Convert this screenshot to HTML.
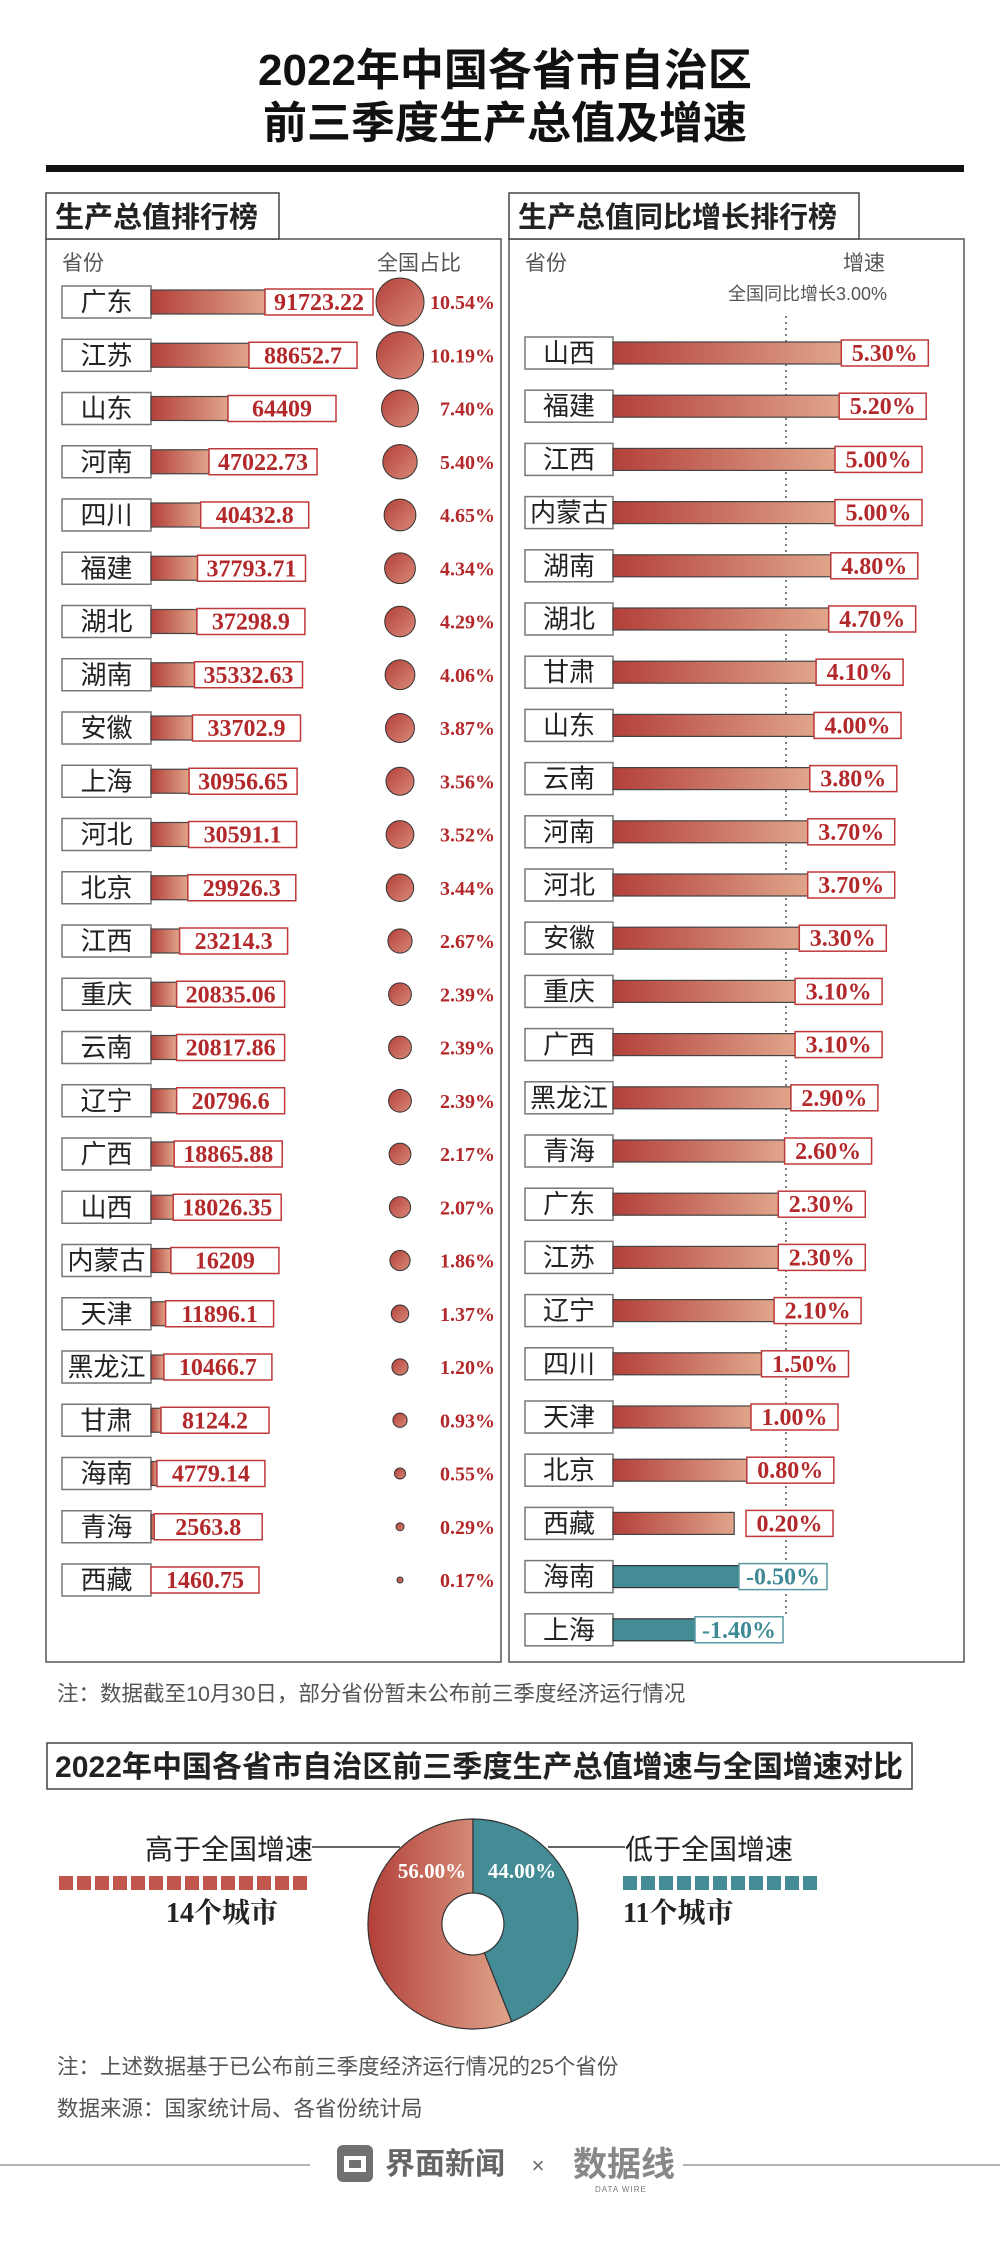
<!DOCTYPE html>
<html><head><meta charset="utf-8">
<style>
html,body{margin:0;padding:0;background:#fff;}
svg{display:block;}
.sans{font-family:"Liberation Sans","Noto Sans CJK SC",sans-serif;}
.lab{font-family:"Liberation Sans","Noto Sans CJK SC",sans-serif;font-size:26px;fill:#222;text-anchor:middle;}
.val{font-family:"Liberation Serif","Noto Serif CJK SC",serif;font-weight:bold;font-size:24px;fill:#b3292b;text-anchor:middle;}
.pct{font-family:"Liberation Serif","Noto Serif CJK SC",serif;font-weight:bold;font-size:20px;fill:#b3292b;text-anchor:end;}
.tv{font-family:"Liberation Serif","Noto Serif CJK SC",serif;font-weight:bold;font-size:24px;fill:#3e8a95;text-anchor:middle;}
.gray{font-family:"Liberation Sans","Noto Sans CJK SC",sans-serif;fill:#555;}
.lb{fill:#fff;stroke:#777;stroke-width:1.5;}
.bar{fill:url(#g);stroke:#444;stroke-width:1.2;}
.tbar{fill:#438c96;stroke:#333;stroke-width:1.2;}
.vb{fill:#fff;stroke:#c0393a;stroke-width:1.5;}
.tb{fill:#fff;stroke:#5a9aa4;stroke-width:1.5;}
.c{fill:url(#gc);stroke:#333;stroke-width:1;}
</style></head><body>
<svg width="1000" height="2265" viewBox="0 0 1000 2265" xmlns="http://www.w3.org/2000/svg">
<defs>
<linearGradient id="g" x1="0" y1="0" x2="1" y2="0"><stop offset="0" stop-color="#b3403a"/><stop offset="1" stop-color="#e0a58a"/></linearGradient>
<linearGradient id="gc" x1="0" y1="0" x2="1" y2="1"><stop offset="0" stop-color="#b3403a"/><stop offset="1" stop-color="#d98a78"/></linearGradient>
<linearGradient id="gd" x1="0" y1="0" x2="1" y2="0"><stop offset="0" stop-color="#b3403a"/><stop offset="1" stop-color="#e0a58a"/></linearGradient>
</defs>
<rect width="1000" height="2265" fill="#fff"/>
<!-- title -->
<text x="505" y="85" text-anchor="middle" font-size="44" font-weight="bold" fill="#111" class="sans">2022年中国各省市自治区</text>
<text x="505" y="138" text-anchor="middle" font-size="44" font-weight="bold" fill="#111" class="sans">前三季度生产总值及增速</text>
<rect x="46" y="165" width="918" height="7" fill="#111"/>

<!-- panels -->
<rect x="46" y="239" width="455" height="1423" fill="none" stroke="#555" stroke-width="1.5"/>
<rect x="509" y="239" width="455" height="1423" fill="none" stroke="#555" stroke-width="1.5"/>
<rect x="46" y="193" width="233" height="46" fill="#fff" stroke="#444" stroke-width="1.5"/>
<rect x="509" y="193" width="350" height="46" fill="#fff" stroke="#444" stroke-width="1.5"/>
<text x="55" y="227" font-size="29" font-weight="bold" fill="#222" class="sans">生产总值排行榜</text>
<text x="518" y="227" font-size="29" font-weight="bold" fill="#222" class="sans">生产总值同比增长排行榜</text>
<text x="62" y="270" font-size="21" class="gray">省份</text>
<text x="377" y="270" font-size="21" class="gray">全国占比</text>
<text x="525" y="270" font-size="21" class="gray">省份</text>
<text x="843" y="270" font-size="21" class="gray">增速</text>
<text x="728" y="300" font-size="18" class="gray">全国同比增长3.00%</text>
<line x1="786" y1="316" x2="786" y2="1616" stroke="#555" stroke-width="1.5" stroke-dasharray="2,4"/>

<!-- left rows -->
<g transform="translate(0,302)"><rect class="lb" x="62" y="-16" width="89" height="32"/><text class="lab" x="106.5" y="9">广东</text><rect class="bar" x="151" y="-12" width="114" height="24"/><rect class="vb" x="265" y="-13" width="108" height="26"/><text class="val" x="319" y="8">91723.22</text><circle class="c" cx="400" cy="0" r="24"/><text class="pct" x="495" y="7">10.54%</text></g>
<g transform="translate(0,355.25)"><rect class="lb" x="62" y="-16" width="89" height="32"/><text class="lab" x="106.5" y="9">江苏</text><rect class="bar" x="151" y="-12" width="98" height="24"/><rect class="vb" x="249" y="-13" width="108" height="26"/><text class="val" x="303" y="8">88652.7</text><circle class="c" cx="400" cy="0" r="23.6"/><text class="pct" x="495" y="7">10.19%</text></g>
<g transform="translate(0,408.5)"><rect class="lb" x="62" y="-16" width="89" height="32"/><text class="lab" x="106.5" y="9">山东</text><rect class="bar" x="151" y="-12" width="77" height="24"/><rect class="vb" x="228" y="-13" width="108" height="26"/><text class="val" x="282" y="8">64409</text><circle class="c" cx="400" cy="0" r="18.5"/><text class="pct" x="495" y="7">7.40%</text></g>
<g transform="translate(0,461.75)"><rect class="lb" x="62" y="-16" width="89" height="32"/><text class="lab" x="106.5" y="9">河南</text><rect class="bar" x="151" y="-12" width="58" height="24"/><rect class="vb" x="209" y="-13" width="108" height="26"/><text class="val" x="263" y="8">47022.73</text><circle class="c" cx="400" cy="0" r="17.2"/><text class="pct" x="495" y="7">5.40%</text></g>
<g transform="translate(0,515)"><rect class="lb" x="62" y="-16" width="89" height="32"/><text class="lab" x="106.5" y="9">四川</text><rect class="bar" x="151" y="-12" width="49.7" height="24"/><rect class="vb" x="200.7" y="-13" width="108" height="26"/><text class="val" x="254.7" y="8">40432.8</text><circle class="c" cx="400" cy="0" r="15.9"/><text class="pct" x="495" y="7">4.65%</text></g>
<g transform="translate(0,568.25)"><rect class="lb" x="62" y="-16" width="89" height="32"/><text class="lab" x="106.5" y="9">福建</text><rect class="bar" x="151" y="-12" width="46.5" height="24"/><rect class="vb" x="197.5" y="-13" width="108" height="26"/><text class="val" x="251.5" y="8">37793.71</text><circle class="c" cx="400" cy="0" r="15.4"/><text class="pct" x="495" y="7">4.34%</text></g>
<g transform="translate(0,621.5)"><rect class="lb" x="62" y="-16" width="89" height="32"/><text class="lab" x="106.5" y="9">湖北</text><rect class="bar" x="151" y="-12" width="45.9" height="24"/><rect class="vb" x="196.9" y="-13" width="108" height="26"/><text class="val" x="250.9" y="8">37298.9</text><circle class="c" cx="400" cy="0" r="15.3"/><text class="pct" x="495" y="7">4.29%</text></g>
<g transform="translate(0,674.75)"><rect class="lb" x="62" y="-16" width="89" height="32"/><text class="lab" x="106.5" y="9">湖南</text><rect class="bar" x="151" y="-12" width="43.5" height="24"/><rect class="vb" x="194.5" y="-13" width="108" height="26"/><text class="val" x="248.5" y="8">35332.63</text><circle class="c" cx="400" cy="0" r="14.9"/><text class="pct" x="495" y="7">4.06%</text></g>
<g transform="translate(0,728)"><rect class="lb" x="62" y="-16" width="89" height="32"/><text class="lab" x="106.5" y="9">安徽</text><rect class="bar" x="151" y="-12" width="41.5" height="24"/><rect class="vb" x="192.5" y="-13" width="108" height="26"/><text class="val" x="246.5" y="8">33702.9</text><circle class="c" cx="400" cy="0" r="14.5"/><text class="pct" x="495" y="7">3.87%</text></g>
<g transform="translate(0,781.25)"><rect class="lb" x="62" y="-16" width="89" height="32"/><text class="lab" x="106.5" y="9">上海</text><rect class="bar" x="151" y="-12" width="38.1" height="24"/><rect class="vb" x="189.1" y="-13" width="108" height="26"/><text class="val" x="243.1" y="8">30956.65</text><circle class="c" cx="400" cy="0" r="14"/><text class="pct" x="495" y="7">3.56%</text></g>
<g transform="translate(0,834.5)"><rect class="lb" x="62" y="-16" width="89" height="32"/><text class="lab" x="106.5" y="9">河北</text><rect class="bar" x="151" y="-12" width="37.6" height="24"/><rect class="vb" x="188.6" y="-13" width="108" height="26"/><text class="val" x="242.6" y="8">30591.1</text><circle class="c" cx="400" cy="0" r="13.9"/><text class="pct" x="495" y="7">3.52%</text></g>
<g transform="translate(0,887.75)"><rect class="lb" x="62" y="-16" width="89" height="32"/><text class="lab" x="106.5" y="9">北京</text><rect class="bar" x="151" y="-12" width="36.8" height="24"/><rect class="vb" x="187.8" y="-13" width="108" height="26"/><text class="val" x="241.8" y="8">29926.3</text><circle class="c" cx="400" cy="0" r="13.7"/><text class="pct" x="495" y="7">3.44%</text></g>
<g transform="translate(0,941)"><rect class="lb" x="62" y="-16" width="89" height="32"/><text class="lab" x="106.5" y="9">江西</text><rect class="bar" x="151" y="-12" width="28.6" height="24"/><rect class="vb" x="179.6" y="-13" width="108" height="26"/><text class="val" x="233.6" y="8">23214.3</text><circle class="c" cx="400" cy="0" r="12.1"/><text class="pct" x="495" y="7">2.67%</text></g>
<g transform="translate(0,994.25)"><rect class="lb" x="62" y="-16" width="89" height="32"/><text class="lab" x="106.5" y="9">重庆</text><rect class="bar" x="151" y="-12" width="25.6" height="24"/><rect class="vb" x="176.6" y="-13" width="108" height="26"/><text class="val" x="230.6" y="8">20835.06</text><circle class="c" cx="400" cy="0" r="11.4"/><text class="pct" x="495" y="7">2.39%</text></g>
<g transform="translate(0,1047.5)"><rect class="lb" x="62" y="-16" width="89" height="32"/><text class="lab" x="106.5" y="9">云南</text><rect class="bar" x="151" y="-12" width="25.6" height="24"/><rect class="vb" x="176.6" y="-13" width="108" height="26"/><text class="val" x="230.6" y="8">20817.86</text><circle class="c" cx="400" cy="0" r="11.4"/><text class="pct" x="495" y="7">2.39%</text></g>
<g transform="translate(0,1100.75)"><rect class="lb" x="62" y="-16" width="89" height="32"/><text class="lab" x="106.5" y="9">辽宁</text><rect class="bar" x="151" y="-12" width="25.6" height="24"/><rect class="vb" x="176.6" y="-13" width="108" height="26"/><text class="val" x="230.6" y="8">20796.6</text><circle class="c" cx="400" cy="0" r="11.4"/><text class="pct" x="495" y="7">2.39%</text></g>
<g transform="translate(0,1154)"><rect class="lb" x="62" y="-16" width="89" height="32"/><text class="lab" x="106.5" y="9">广西</text><rect class="bar" x="151" y="-12" width="23.2" height="24"/><rect class="vb" x="174.2" y="-13" width="108" height="26"/><text class="val" x="228.2" y="8">18865.88</text><circle class="c" cx="400" cy="0" r="10.9"/><text class="pct" x="495" y="7">2.17%</text></g>
<g transform="translate(0,1207.25)"><rect class="lb" x="62" y="-16" width="89" height="32"/><text class="lab" x="106.5" y="9">山西</text><rect class="bar" x="151" y="-12" width="22.2" height="24"/><rect class="vb" x="173.2" y="-13" width="108" height="26"/><text class="val" x="227.2" y="8">18026.35</text><circle class="c" cx="400" cy="0" r="10.6"/><text class="pct" x="495" y="7">2.07%</text></g>
<g transform="translate(0,1260.5)"><rect class="lb" x="62" y="-16" width="89" height="32"/><text class="lab" x="106.5" y="9">内蒙古</text><rect class="bar" x="151" y="-12" width="19.9" height="24"/><rect class="vb" x="170.9" y="-13" width="108" height="26"/><text class="val" x="224.9" y="8">16209</text><circle class="c" cx="400" cy="0" r="10.1"/><text class="pct" x="495" y="7">1.86%</text></g>
<g transform="translate(0,1313.75)"><rect class="lb" x="62" y="-16" width="89" height="32"/><text class="lab" x="106.5" y="9">天津</text><rect class="bar" x="151" y="-12" width="14.6" height="24"/><rect class="vb" x="165.6" y="-13" width="108" height="26"/><text class="val" x="219.6" y="8">11896.1</text><circle class="c" cx="400" cy="0" r="8.7"/><text class="pct" x="495" y="7">1.37%</text></g>
<g transform="translate(0,1367)"><rect class="lb" x="62" y="-16" width="89" height="32"/><text class="lab" x="106.5" y="9">黑龙江</text><rect class="bar" x="151" y="-12" width="12.9" height="24"/><rect class="vb" x="163.9" y="-13" width="108" height="26"/><text class="val" x="217.9" y="8">10466.7</text><circle class="c" cx="400" cy="0" r="8.1"/><text class="pct" x="495" y="7">1.20%</text></g>
<g transform="translate(0,1420.25)"><rect class="lb" x="62" y="-16" width="89" height="32"/><text class="lab" x="106.5" y="9">甘肃</text><rect class="bar" x="151" y="-12" width="10" height="24"/><rect class="vb" x="161" y="-13" width="108" height="26"/><text class="val" x="215" y="8">8124.2</text><circle class="c" cx="400" cy="0" r="7.1"/><text class="pct" x="495" y="7">0.93%</text></g>
<g transform="translate(0,1473.5)"><rect class="lb" x="62" y="-16" width="89" height="32"/><text class="lab" x="106.5" y="9">海南</text><rect class="bar" x="151" y="-12" width="5.9" height="24"/><rect class="vb" x="156.9" y="-13" width="108" height="26"/><text class="val" x="210.9" y="8">4779.14</text><circle class="c" cx="400" cy="0" r="5.5"/><text class="pct" x="495" y="7">0.55%</text></g>
<g transform="translate(0,1526.75)"><rect class="lb" x="62" y="-16" width="89" height="32"/><text class="lab" x="106.5" y="9">青海</text><rect class="bar" x="151" y="-12" width="3.2" height="24"/><rect class="vb" x="154.2" y="-13" width="108" height="26"/><text class="val" x="208.2" y="8">2563.8</text><circle class="c" cx="400" cy="0" r="4"/><text class="pct" x="495" y="7">0.29%</text></g>
<g transform="translate(0,1580)"><rect class="lb" x="62" y="-16" width="89" height="32"/><text class="lab" x="106.5" y="9">西藏</text><rect class="vb" x="151" y="-13" width="108" height="26"/><text class="val" x="205" y="8">1460.75</text><circle class="c" cx="400" cy="0" r="3"/><text class="pct" x="495" y="7">0.17%</text></g>

<!-- right rows -->
<g transform="translate(0,353)"><rect class="lb" x="525" y="-16" width="88" height="32"/><text class="lab" x="569" y="9">山西</text><rect class="bar" x="613" y="-11" width="228.3" height="22"/><rect class="vb" x="841.3" y="-13" width="87" height="26"/><text class="val" x="884.8" y="8">5.30%</text></g>
<g transform="translate(0,406.2)"><rect class="lb" x="525" y="-16" width="88" height="32"/><text class="lab" x="569" y="9">福建</text><rect class="bar" x="613" y="-11" width="226.2" height="22"/><rect class="vb" x="839.2" y="-13" width="87" height="26"/><text class="val" x="882.7" y="8">5.20%</text></g>
<g transform="translate(0,459.4)"><rect class="lb" x="525" y="-16" width="88" height="32"/><text class="lab" x="569" y="9">江西</text><rect class="bar" x="613" y="-11" width="222" height="22"/><rect class="vb" x="835" y="-13" width="87" height="26"/><text class="val" x="878.5" y="8">5.00%</text></g>
<g transform="translate(0,512.6)"><rect class="lb" x="525" y="-16" width="88" height="32"/><text class="lab" x="569" y="9">内蒙古</text><rect class="bar" x="613" y="-11" width="222" height="22"/><rect class="vb" x="835" y="-13" width="87" height="26"/><text class="val" x="878.5" y="8">5.00%</text></g>
<g transform="translate(0,565.8)"><rect class="lb" x="525" y="-16" width="88" height="32"/><text class="lab" x="569" y="9">湖南</text><rect class="bar" x="613" y="-11" width="217.8" height="22"/><rect class="vb" x="830.8" y="-13" width="87" height="26"/><text class="val" x="874.3" y="8">4.80%</text></g>
<g transform="translate(0,619)"><rect class="lb" x="525" y="-16" width="88" height="32"/><text class="lab" x="569" y="9">湖北</text><rect class="bar" x="613" y="-11" width="215.7" height="22"/><rect class="vb" x="828.7" y="-13" width="87" height="26"/><text class="val" x="872.2" y="8">4.70%</text></g>
<g transform="translate(0,672.2)"><rect class="lb" x="525" y="-16" width="88" height="32"/><text class="lab" x="569" y="9">甘肃</text><rect class="bar" x="613" y="-11" width="203.1" height="22"/><rect class="vb" x="816.1" y="-13" width="87" height="26"/><text class="val" x="859.6" y="8">4.10%</text></g>
<g transform="translate(0,725.4)"><rect class="lb" x="525" y="-16" width="88" height="32"/><text class="lab" x="569" y="9">山东</text><rect class="bar" x="613" y="-11" width="201" height="22"/><rect class="vb" x="814" y="-13" width="87" height="26"/><text class="val" x="857.5" y="8">4.00%</text></g>
<g transform="translate(0,778.6)"><rect class="lb" x="525" y="-16" width="88" height="32"/><text class="lab" x="569" y="9">云南</text><rect class="bar" x="613" y="-11" width="196.8" height="22"/><rect class="vb" x="809.8" y="-13" width="87" height="26"/><text class="val" x="853.3" y="8">3.80%</text></g>
<g transform="translate(0,831.8)"><rect class="lb" x="525" y="-16" width="88" height="32"/><text class="lab" x="569" y="9">河南</text><rect class="bar" x="613" y="-11" width="194.7" height="22"/><rect class="vb" x="807.7" y="-13" width="87" height="26"/><text class="val" x="851.2" y="8">3.70%</text></g>
<g transform="translate(0,885)"><rect class="lb" x="525" y="-16" width="88" height="32"/><text class="lab" x="569" y="9">河北</text><rect class="bar" x="613" y="-11" width="194.7" height="22"/><rect class="vb" x="807.7" y="-13" width="87" height="26"/><text class="val" x="851.2" y="8">3.70%</text></g>
<g transform="translate(0,938.2)"><rect class="lb" x="525" y="-16" width="88" height="32"/><text class="lab" x="569" y="9">安徽</text><rect class="bar" x="613" y="-11" width="186.3" height="22"/><rect class="vb" x="799.3" y="-13" width="87" height="26"/><text class="val" x="842.8" y="8">3.30%</text></g>
<g transform="translate(0,991.4)"><rect class="lb" x="525" y="-16" width="88" height="32"/><text class="lab" x="569" y="9">重庆</text><rect class="bar" x="613" y="-11" width="182.1" height="22"/><rect class="vb" x="795.1" y="-13" width="87" height="26"/><text class="val" x="838.6" y="8">3.10%</text></g>
<g transform="translate(0,1044.6)"><rect class="lb" x="525" y="-16" width="88" height="32"/><text class="lab" x="569" y="9">广西</text><rect class="bar" x="613" y="-11" width="182.1" height="22"/><rect class="vb" x="795.1" y="-13" width="87" height="26"/><text class="val" x="838.6" y="8">3.10%</text></g>
<g transform="translate(0,1097.8)"><rect class="lb" x="525" y="-16" width="88" height="32"/><text class="lab" x="569" y="9">黑龙江</text><rect class="bar" x="613" y="-11" width="177.9" height="22"/><rect class="vb" x="790.9" y="-13" width="87" height="26"/><text class="val" x="834.4" y="8">2.90%</text></g>
<g transform="translate(0,1151)"><rect class="lb" x="525" y="-16" width="88" height="32"/><text class="lab" x="569" y="9">青海</text><rect class="bar" x="613" y="-11" width="171.6" height="22"/><rect class="vb" x="784.6" y="-13" width="87" height="26"/><text class="val" x="828.1" y="8">2.60%</text></g>
<g transform="translate(0,1204.2)"><rect class="lb" x="525" y="-16" width="88" height="32"/><text class="lab" x="569" y="9">广东</text><rect class="bar" x="613" y="-11" width="165.3" height="22"/><rect class="vb" x="778.3" y="-13" width="87" height="26"/><text class="val" x="821.8" y="8">2.30%</text></g>
<g transform="translate(0,1257.4)"><rect class="lb" x="525" y="-16" width="88" height="32"/><text class="lab" x="569" y="9">江苏</text><rect class="bar" x="613" y="-11" width="165.3" height="22"/><rect class="vb" x="778.3" y="-13" width="87" height="26"/><text class="val" x="821.8" y="8">2.30%</text></g>
<g transform="translate(0,1310.6)"><rect class="lb" x="525" y="-16" width="88" height="32"/><text class="lab" x="569" y="9">辽宁</text><rect class="bar" x="613" y="-11" width="161.1" height="22"/><rect class="vb" x="774.1" y="-13" width="87" height="26"/><text class="val" x="817.6" y="8">2.10%</text></g>
<g transform="translate(0,1363.8)"><rect class="lb" x="525" y="-16" width="88" height="32"/><text class="lab" x="569" y="9">四川</text><rect class="bar" x="613" y="-11" width="148.5" height="22"/><rect class="vb" x="761.5" y="-13" width="87" height="26"/><text class="val" x="805" y="8">1.50%</text></g>
<g transform="translate(0,1417)"><rect class="lb" x="525" y="-16" width="88" height="32"/><text class="lab" x="569" y="9">天津</text><rect class="bar" x="613" y="-11" width="138" height="22"/><rect class="vb" x="751" y="-13" width="87" height="26"/><text class="val" x="794.5" y="8">1.00%</text></g>
<g transform="translate(0,1470.2)"><rect class="lb" x="525" y="-16" width="88" height="32"/><text class="lab" x="569" y="9">北京</text><rect class="bar" x="613" y="-11" width="133.8" height="22"/><rect class="vb" x="746.8" y="-13" width="87" height="26"/><text class="val" x="790.3" y="8">0.80%</text></g>
<g transform="translate(0,1523.4)"><rect class="lb" x="525" y="-16" width="88" height="32"/><text class="lab" x="569" y="9">西藏</text><rect class="bar" x="613" y="-11" width="121.2" height="22"/><rect class="vb" x="746" y="-13" width="87" height="26"/><text class="val" x="789.5" y="8">0.20%</text></g>
<g transform="translate(0,1576.6)"><rect class="lb" x="525" y="-16" width="88" height="32"/><text class="lab" x="569" y="9">海南</text><rect class="tbar" x="613" y="-11" width="126" height="22"/><rect class="tb" x="739" y="-13" width="88" height="26"/><text class="tv" x="783" y="8">-0.50%</text></g>
<g transform="translate(0,1629.8)"><rect class="lb" x="525" y="-16" width="88" height="32"/><text class="lab" x="569" y="9">上海</text><rect class="tbar" x="613" y="-11" width="82" height="22"/><rect class="tb" x="695" y="-13" width="88" height="26"/><text class="tv" x="739" y="8">-1.40%</text></g>

<!-- note -->
<text x="57" y="1701" font-size="21.5" class="gray" fill="#666">注：数据截至10月30日，部分省份暂未公布前三季度经济运行情况</text>

<!-- section 2 -->
<rect x="47" y="1743" width="865" height="46" fill="#fff" stroke="#444" stroke-width="1.5"/>
<text x="55" y="1777" font-size="30" font-weight="bold" fill="#222" class="sans" textLength="848">2022年中国各省市自治区前三季度生产总值增速与全国增速对比</text>

<path d="M473,1819 A105,105 0 1 0 511.7,2021.6 L484.4,1952.8 A31,31 0 1 1 473,1893 Z" fill="url(#gd)" stroke="#333" stroke-width="1.2"/>
<path d="M473,1819 A105,105 0 0 1 511.7,2021.6 L484.4,1952.8 A31,31 0 0 0 473,1893 Z" fill="#438c96" stroke="#333" stroke-width="1.2"/>
<text x="432" y="1878" text-anchor="middle" font-size="21" font-weight="bold" fill="#fff" font-family="Liberation Serif, serif">56.00%</text>
<text x="522" y="1878" text-anchor="middle" font-size="21" font-weight="bold" fill="#fff" font-family="Liberation Serif, serif">44.00%</text>

<text x="145" y="1859" font-size="28" fill="#222" class="sans">高于全国增速</text>
<line x1="312" y1="1847" x2="400" y2="1847" stroke="#333" stroke-width="1.5"/>
<text x="625" y="1859" font-size="28" fill="#222" class="sans">低于全国增速</text>
<line x1="548" y1="1847" x2="625" y2="1847" stroke="#333" stroke-width="1.5"/>
<g fill="#c0564c">
<rect x="59" y="1876" width="14" height="14"/><rect x="77" y="1876" width="14" height="14"/><rect x="95" y="1876" width="14" height="14"/><rect x="113" y="1876" width="14" height="14"/><rect x="131" y="1876" width="14" height="14"/><rect x="149" y="1876" width="14" height="14"/><rect x="167" y="1876" width="14" height="14"/><rect x="185" y="1876" width="14" height="14"/><rect x="203" y="1876" width="14" height="14"/><rect x="221" y="1876" width="14" height="14"/><rect x="239" y="1876" width="14" height="14"/><rect x="257" y="1876" width="14" height="14"/><rect x="275" y="1876" width="14" height="14"/><rect x="293" y="1876" width="14" height="14"/>
</g>
<g fill="#438c96">
<rect x="623" y="1876" width="14" height="14"/><rect x="641" y="1876" width="14" height="14"/><rect x="659" y="1876" width="14" height="14"/><rect x="677" y="1876" width="14" height="14"/><rect x="695" y="1876" width="14" height="14"/><rect x="713" y="1876" width="14" height="14"/><rect x="731" y="1876" width="14" height="14"/><rect x="749" y="1876" width="14" height="14"/><rect x="767" y="1876" width="14" height="14"/><rect x="785" y="1876" width="14" height="14"/><rect x="803" y="1876" width="14" height="14"/>
</g>
<text x="166" y="1922" font-size="28" font-weight="bold" fill="#222" font-family="Liberation Serif, 'Noto Serif CJK SC', serif">14个城市</text>
<text x="623" y="1922" font-size="28" font-weight="bold" fill="#222" font-family="Liberation Serif, 'Noto Serif CJK SC', serif">11个城市</text>

<text x="57" y="2074" font-size="21.5" class="gray" fill="#666">注：上述数据基于已公布前三季度经济运行情况的25个省份</text>
<text x="57" y="2116" font-size="21.5" class="gray" fill="#666">数据来源：国家统计局、各省份统计局</text>

<!-- footer -->
<line x1="0" y1="2165" x2="310" y2="2165" stroke="#999" stroke-width="1.5"/>
<line x1="683" y1="2165" x2="1000" y2="2165" stroke="#999" stroke-width="1.5"/>
<rect x="337" y="2145" width="36" height="37" rx="6" fill="#707070"/>
<path d="M344,2156 L366,2156 L366,2172 L344,2172 Z M349,2160 L361,2160 L361,2168 L349,2168 Z" fill="#fff" fill-rule="evenodd"/>
<text x="385" y="2174" font-size="30" font-weight="bold" fill="#666" class="sans">界面新闻</text>
<text x="538" y="2173" font-size="22" fill="#666" class="sans" text-anchor="middle">×</text>
<text x="573" y="2176" font-size="34" font-weight="bold" fill="#888" class="sans">数据线</text>
<text x="595" y="2192" font-size="8" fill="#777" class="sans" letter-spacing="1">DATA WIRE</text>
</svg>
</body></html>
